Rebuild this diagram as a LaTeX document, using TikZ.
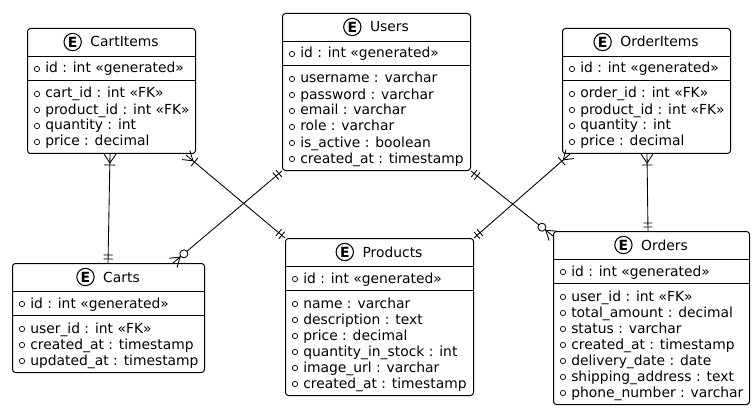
\documentclass[tikz,border=0pt]{standalone}
\usepackage{fontspec}
\setmainfont{DejaVu Sans}
\usetikzlibrary{calc,decorations.markings}
\tikzset{
  x=0.75pt,y=-0.75pt,
  entitybox/.style={draw=black,line width=0.75pt,rounded corners=2.25pt,fill=white,inner sep=0pt,anchor=north west},
  rule/.style={draw=black,line width=0.7pt},
  rowtext/.style={inner sep=0pt,anchor=base west,font=\fontsize{10.4pt}{12pt}\selectfont},
  titletext/.style={inner sep=0pt,font=\fontsize{10.4pt}{12pt}\selectfont},
  ebadge/.style={circle,draw=black,line width=0.8pt,minimum size=13pt,inner sep=0pt,font=\fontsize{10.5pt}{10pt}\selectfont\bfseries},
  bullet/.style={circle,draw=black,line width=0.5pt,minimum size=4pt,inner sep=0pt},
  link/.style={draw=black,line width=0.65pt},
  crowbars/.style={link,postaction={decorate,decoration={markings,
    mark=at position 0 with {
      \draw[line width=0.65pt] (6.75pt,0)--(0pt,4.5pt) (6.75pt,0)--(0pt,-4.5pt) (8.25pt,4pt)--(8.25pt,-4pt);},
    mark=at position 1 with {
      \draw[line width=0.65pt] (-3pt,3.4pt)--(-3pt,-3.4pt) (-6pt,3.4pt)--(-6pt,-3.4pt);}}}},
  barszero/.style={link,postaction={decorate,decoration={markings,
    mark=at position 0 with {
      \draw[line width=0.65pt] (3pt,3.4pt)--(3pt,-3.4pt) (6pt,3.4pt)--(6pt,-3.4pt);},
    mark=at position 1 with {
      \draw[line width=0.65pt] (-6.75pt,0)--(0pt,4.5pt) (-6.75pt,0)--(0pt,-4.5pt);
      \draw[line width=0.65pt,fill=white] (-10.5pt,0) circle (3pt);}}}},
}
% name, left, right, top, title, id row, other rows
\newcommand{\entity}[7]{%
  \pgfmathsetmacro{\bw}{(#3-#2)*0.75}%
  \def\nrows{0}\foreach \rr [count=\ri] in {#7}{\xdef\nrows{\ri}}%
  \pgfmathsetmacro{\bh}{(77+16*(\nrows-1))*0.75}%
  \node[entitybox,minimum width=\bw pt,minimum height=\bh pt] (#1) at (#2,#4) {};
  \node[titletext,anchor=base] (#1title) at ($(#1.north)+(13,19)$) {#5};
  \node[ebadge] (#1badge) at ($(#1title.west |- #1.north)+(-17.5,14)$) {E};
  \draw[rule] ($(#1.north west)+(0,28)$) -- ($(#1.north east)+(0,28)$);
  \draw[rule] ($(#1.north west)+(0,52)$) -- ($(#1.north east)+(0,52)$);
  \node[bullet] (#1idb) at ($(#1.north west)+(10,41)$) {};
  \node[rowtext] (#1id) at ($(#1.north west)+(18,45)$) {#6};
  \foreach \rr [count=\ri] in {#7}{
    \node[bullet] (#1b\ri) at ($(#1.north west)+(10,{66+16*(\ri-1)})$) {};
    \node[rowtext] (#1r\ri) at ($(#1.north west)+(18,{70+16*(\ri-1)})$) {\rr};
  }
}
\begin{document}
\begin{tikzpicture}
\useasboundingbox (0,0) rectangle (754,410);
\entity{cartitems}{27}{195}{28}{CartItems}{id : int «generated»}{cart\_id : int «FK»,product\_id : int «FK»,quantity : int,price : decimal}
\entity{users}{282}{470}{13}{Users}{id : int «generated»}{username : varchar,password : varchar,email : varchar,role : varchar,is\_active : boolean,created\_at : timestamp}
\entity{orderitems}{562}{730}{28}{OrderItems}{id : int «generated»}{order\_id : int «FK»,product\_id : int «FK»,quantity : int,price : decimal}
\entity{carts}{12}{204}{263}{Carts}{id : int «generated»}{user\_id : int «FK»,created\_at : timestamp,updated\_at : timestamp}
\entity{products}{285}{473}{238}{Products}{id : int «generated»}{name : varchar,description : text,price : decimal,quantity\_in\_stock : int,image\_url : varchar,created\_at : timestamp}
\entity{orders}{553}{749}{231}{Orders}{id : int «generated»}{user\_id : int «FK»,total\_amount : decimal,status : varchar,created\_at : timestamp,delivery\_date : date,shipping\_address : text,phone\_number : varchar}
\draw[crowbars] ($(cartitems.south west)+(83,0)$) -- ($(carts.north west)+(96,0)$);
\draw[crowbars] ($(cartitems.south east)+(-10,1)$) -- ($(products.north west)+(0,0)$);
\draw[crowbars] ($(orderitems.south west)+(8,0)$) -- ($(products.north east)+(0,0)$);
\draw[crowbars] ($(orderitems.south west)+(85,0)$) -- ($(orders.north west)+(95,0)$);
\draw[barszero] (users.south west) -- ($(carts.north east)+(-32,0)$);
\draw[barszero] (users.south east) -- ($(orders.north west)+(0,5)$);
\end{tikzpicture}
\end{document}
